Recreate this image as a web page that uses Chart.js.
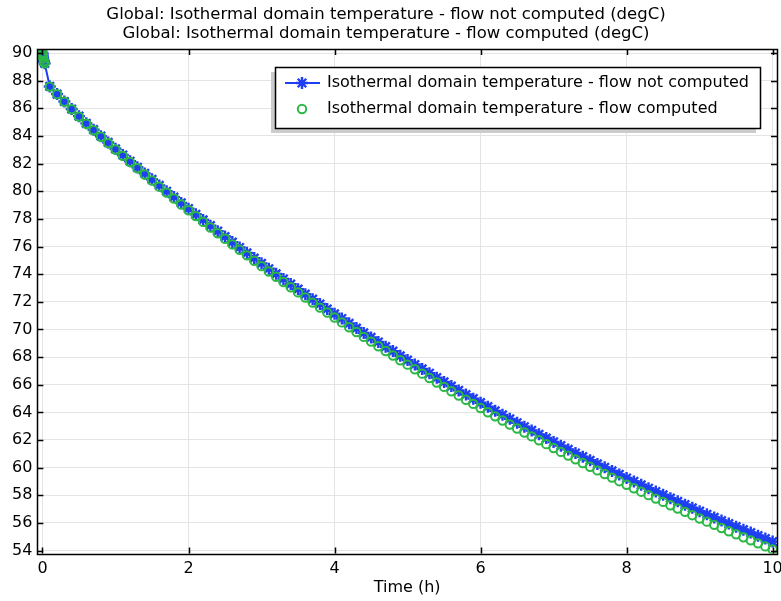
<!DOCTYPE html>
<html>
<head>
<meta charset="utf-8">
<script src="https://cdn.jsdelivr.net/npm/chart.js@4.4.1/dist/chart.umd.min.js"></script>
<style>
  body { margin: 0; background: #fff; }
</style>
</head>
<body>
<canvas id="tempChart" width="781" height="601"></canvas>
<script>
// time steps (h)
const timeHours = [
    0, 0.002, 0.005, 0.01, 0.02, 0.03,
    0.1, 0.2, 0.3, 0.4, 0.5, 0.6, 0.7, 0.8, 0.9, 1.0,
    1.1, 1.2, 1.3, 1.4, 1.5, 1.6, 1.7, 1.8, 1.9, 2.0,
    2.1, 2.2, 2.3, 2.4, 2.5, 2.6, 2.7, 2.8, 2.9, 3.0,
    3.1, 3.2, 3.3, 3.4, 3.5, 3.6, 3.7, 3.8, 3.9, 4.0,
    4.1, 4.2, 4.3, 4.4, 4.5, 4.6, 4.7, 4.8, 4.9, 5.0,
    5.1, 5.2, 5.3, 5.4, 5.5, 5.6, 5.7, 5.8, 5.9, 6.0,
    6.1, 6.2, 6.3, 6.4, 6.5, 6.6, 6.7, 6.8, 6.9, 7.0,
    7.1, 7.2, 7.3, 7.4, 7.5, 7.6, 7.7, 7.8, 7.9, 8.0,
    8.1, 8.2, 8.3, 8.4, 8.5, 8.6, 8.7, 8.8, 8.9, 9.0,
    9.1, 9.2, 9.3, 9.4, 9.5, 9.6, 9.7, 9.8, 9.9, 10.0
];

// Isothermal domain temperature - flow not computed (degC)
const tempFlowNotComputed = [
    90.0, 89.9, 89.75, 89.6, 89.4, 89.25,
    87.58, 87.03, 86.49, 85.95, 85.43, 84.91, 84.45, 83.98, 83.53, 83.07,
    82.62, 82.17, 81.73, 81.29, 80.86, 80.42, 80.00, 79.58, 79.15, 78.74,
    78.33, 77.92, 77.51, 77.11, 76.72, 76.32, 75.93, 75.54, 75.16, 74.78,
    74.39, 74.02, 73.65, 73.28, 72.91, 72.55, 72.19, 71.84, 71.48, 71.13,
    70.79, 70.44, 70.10, 69.75, 69.42, 69.09, 68.75, 68.43, 68.09, 67.78,
    67.46, 67.14, 66.83, 66.51, 66.20, 65.90, 65.59, 65.29, 64.99, 64.70,
    64.41, 64.11, 63.82, 63.53, 63.25, 62.96, 62.69, 62.41, 62.14, 61.86,
    61.59, 61.32, 61.06, 60.79, 60.53, 60.27, 60.02, 59.76, 59.51, 59.25,
    59.00, 58.76, 58.51, 58.27, 58.03, 57.79, 57.56, 57.32, 57.09, 56.85,
    56.62, 56.40, 56.17, 55.95, 55.73, 55.51, 55.30, 55.08, 54.87, 54.65
];

// Isothermal domain temperature - flow computed (degC)
const tempFlowComputed = [
    90.0, 89.9, 89.75, 89.6, 89.4, 89.25,
    87.57, 87.02, 86.47, 85.93, 85.40, 84.88, 84.41, 83.94, 83.48, 83.02,
    82.56, 82.11, 81.66, 81.21, 80.77, 80.33, 79.90, 79.47, 79.04, 78.62,
    78.20, 77.78, 77.37, 76.96, 76.56, 76.15, 75.76, 75.36, 74.97, 74.58,
    74.19, 73.81, 73.43, 73.05, 72.68, 72.31, 71.94, 71.58, 71.22, 70.86,
    70.51, 70.16, 69.81, 69.46, 69.12, 68.78, 68.44, 68.11, 67.77, 67.45,
    67.12, 66.80, 66.48, 66.16, 65.84, 65.53, 65.22, 64.91, 64.61, 64.31,
    64.01, 63.71, 63.41, 63.12, 62.83, 62.54, 62.26, 61.98, 61.70, 61.42,
    61.14, 60.87, 60.60, 60.33, 60.06, 59.80, 59.54, 59.28, 59.02, 58.76,
    58.51, 58.26, 58.01, 57.76, 57.52, 57.28, 57.04, 56.80, 56.56, 56.32,
    56.09, 55.86, 55.63, 55.40, 55.18, 54.96, 54.74, 54.52, 54.30, 54.08
];

const xTicks = [0, 2, 4, 6, 8, 10];
const yTicks = [54, 56, 58, 60, 62, 64, 66, 68, 70, 72, 74, 76, 78, 80, 82, 84, 86, 88, 90];

const seriesLabels = [
    "Isothermal domain temperature - flow not computed",
    "Isothermal domain temperature - flow computed"
];
const chartTitle = [
    "Global: Isothermal domain temperature - flow not computed (degC)",
    "Global: Isothermal domain temperature - flow computed (degC)"
];

const BLUE = "#1f3ff2";
const GREEN = "#2cb844";
const FONT = "'DejaVu Sans', sans-serif";

function toPoints(xs, ys) {
    return xs.map((x, i) => ({ x: x, y: ys[i] }));
}

// title, frame, inward ticks on all four sides and boxed legend
const framePlugin = {
    id: "frame",
    afterDraw(chart) {
        const ctx = chart.ctx;
        const a = chart.chartArea;
        const xs = chart.scales.x;
        const ys = chart.scales.y;
        const len = 6;

        ctx.save();
        ctx.fillStyle = "#000";
        ctx.font = "16.5px " + FONT;
        ctx.textAlign = "center";
        ctx.textBaseline = "middle";
        ctx.fillText(chartTitle[0], 386, 15);
        ctx.fillText(chartTitle[1], 386, 34);

        ctx.strokeStyle = "#000";
        ctx.lineWidth = 1.5;
        ctx.beginPath();
        xTicks.forEach((v) => {
            const px = Math.round(xs.getPixelForValue(v)) + 0.5;
            ctx.moveTo(px, a.bottom);
            ctx.lineTo(px, a.bottom - len);
            ctx.moveTo(px, a.top);
            ctx.lineTo(px, a.top + len);
        });
        yTicks.forEach((v) => {
            const py = Math.round(ys.getPixelForValue(v)) + 0.5;
            ctx.moveTo(a.left, py);
            ctx.lineTo(a.left + len, py);
            ctx.moveTo(a.right, py);
            ctx.lineTo(a.right - len, py);
        });
        ctx.stroke();
        ctx.strokeRect(Math.round(a.left) + 0.5, Math.round(a.top) + 0.5,
            Math.round(a.right - a.left), Math.round(a.bottom - a.top));

        // legend box
        const bx = 275, by = 67, bw = 485, bh = 61;
        ctx.fillStyle = "#cccccc";
        ctx.fillRect(bx - 4, by + 5, bw, bh);
        ctx.fillStyle = "#fff";
        ctx.fillRect(bx, by, bw, bh);
        ctx.lineWidth = 1.5;
        ctx.strokeStyle = "#000";
        ctx.strokeRect(bx + 0.5, by + 0.5, bw, bh);

        const rows = [by + 16, by + 42];
        chart.data.datasets.forEach((ds, i) => {
            const y = rows[i];
            if (ds.showLine) {
                ctx.strokeStyle = ds.borderColor;
                ctx.lineWidth = ds.borderWidth;
                ctx.beginPath();
                ctx.moveTo(285, y);
                ctx.lineTo(320, y);
                ctx.stroke();
            }
            ctx.strokeStyle = ds.pointBorderColor;
            ctx.fillStyle = ds.pointBackgroundColor;
            ctx.lineWidth = ds.pointBorderWidth;
            Chart.helpers.drawPoint(ctx, {
                pointStyle: ds.pointStyle,
                radius: ds.pointRadius,
                rotation: 0,
                borderWidth: ds.pointBorderWidth
            }, 302, y);
            ctx.fillStyle = "#000";
            ctx.font = "16px " + FONT;
            ctx.textBaseline = "middle";
            ctx.textAlign = "left";
            ctx.fillText(ds.label, 327, y);
        });
        ctx.restore();
    }
};

const ctx = document.getElementById("tempChart").getContext("2d");

new Chart(ctx, {
    type: "scatter",
    data: {
        datasets: [
            {
                label: seriesLabels[0],
                data: toPoints(timeHours, tempFlowNotComputed),
                showLine: true,
                borderColor: BLUE,
                borderWidth: 2,
                pointStyle: "star",
                pointRadius: 6,
                pointBorderColor: BLUE,
                pointBackgroundColor: BLUE,
                pointBorderWidth: 2.4,
                order: 1,
            },
            {
                label: seriesLabels[1],
                data: toPoints(timeHours, tempFlowComputed),
                showLine: false,
                pointStyle: "circle",
                pointRadius: 4.2,
                pointBorderColor: GREEN,
                pointBackgroundColor: "rgba(0,0,0,0)",
                pointBorderWidth: 2,
                order: 0,
            },
        ],
    },
    options: {
        responsive: false,
        animation: false,
        events: [],
        layout: {
            autoPadding: false,
            padding: { left: 7, right: 4, top: 49, bottom: 0 },
        },
        plugins: {
            legend: { display: false },
            tooltip: { enabled: false },
            title: { display: false },
        },
        scales: {
            x: {
                type: "linear",
                min: -0.07,
                max: 10.06,
                afterBuildTicks: (scale) => {
                    scale.ticks = xTicks.map((v) => ({ value: v }));
                },
                afterFit: (scale) => {
                    scale.paddingLeft = 0;
                    scale.paddingRight = 0;
                },
                grid: { color: "#e4e4e4", drawTicks: false },
                border: { display: false },
                ticks: {
                    color: "#000",
                    padding: 6,
                    maxRotation: 0,
                    font: { family: FONT, size: 16 },
                },
                title: {
                    display: true,
                    text: "Time (h)",
                    color: "#000",
                    font: { family: FONT, size: 16 },
                    padding: { top: -7, bottom: 4 },
                },
            },
            y: {
                type: "linear",
                min: 53.78,
                max: 90.29,
                afterBuildTicks: (scale) => {
                    scale.ticks = yTicks.map((v) => ({ value: v }));
                },
                afterFit: (scale) => {
                    scale.paddingTop = 0;
                    scale.paddingBottom = 0;
                },
                grid: { color: "#e4e4e4", drawTicks: false },
                border: { display: false },
                ticks: {
                    color: "#000",
                    padding: 5,
                    font: { family: FONT, size: 16 },
                },
            },
        },
    },
    plugins: [framePlugin],
});
</script>
</body>
</html>
